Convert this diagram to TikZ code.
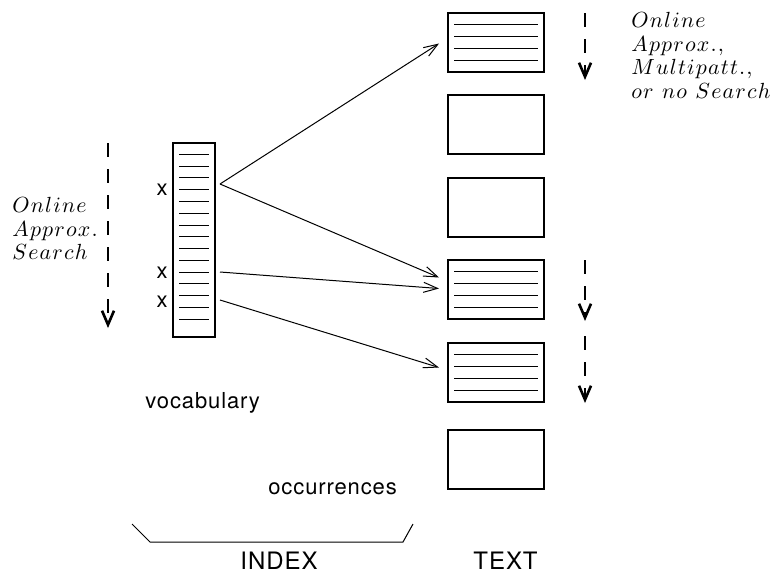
\documentclass[tikz,border=0pt]{standalone}
\usepackage{fontspec}
\newfontfamily\labelfont{TeX Gyre Heros}[LetterSpace=4]
\usetikzlibrary{arrows.meta,calc}

% math-italic word with a little air between the letters
\makeatletter
\newcommand\airyword[1]{\@tfor\ch:=#1\do{$\ch$\kern0.6pt}}
\makeatother

\tikzset{
  vocabbox/.style={draw, line width=1pt, minimum width=21pt, minimum height=97pt, inner sep=0pt},
  textbox/.style={draw, line width=1pt, minimum width=48pt, minimum height=29.5pt, inner sep=0pt},
  rule/.style={line width=0.5pt},
  pointer/.style={line width=0.5pt, -{Straight Barb[length=7pt,width=5pt]}},
  scan/.style={line width=1.3pt, dash pattern=on 7pt off 6pt, -{Straight Barb[length=7pt,width=6pt,line width=1.3pt]}},
  sanslabel/.style={inner sep=0pt, font=\labelfont\fontsize{11}{13}\selectfont},
  biglabel/.style={inner sep=0pt, font=\labelfont\fontsize{12}{14}\selectfont},
  itlabel/.style={inner sep=0pt, align=left, font=\fontsize{11}{11.8}\selectfont},
}

\begin{document}
\begin{tikzpicture}[x=0.5pt, y=-0.5pt]
  \useasboundingbox (0,0) rectangle (775,574);

  % vocabulary column with its entry lines
  \node[vocabbox] (vocab) at (194,240) {};
  \foreach \i in {0,...,14}
    \draw[rule] (179,{154.3+11.79*\i}) -- (209,{154.3+11.79*\i});

  % marked entries
  \node[sanslabel] (x1) at (162,190) {x};
  \node[sanslabel] (x2) at (162,273) {x};
  \node[sanslabel] (x3) at (162,302) {x};

  % text blocks
  \node[textbox] (t1) at (496,42.5) {};
  \node[textbox] (t2) at (496,124.5) {};
  \node[textbox] (t3) at (496,207) {};
  \node[textbox] (t4) at (496,289.5) {};
  \node[textbox] (t5) at (496,372.5) {};
  \node[textbox] (t6) at (496,459) {};
  \foreach \b in {t1,t4,t5}
    \foreach \i in {1,...,4}
      \draw[rule] ($(\b.north west)+(7,12*\i)$) -- ($(\b.north east)+(-7,12*\i)$);

  % pointers from the vocabulary to the text blocks
  \coordinate (apex) at (220,184);
  \coordinate (from2) at (220,272);
  \coordinate (from3) at (220,300);
  \coordinate (to1) at ($(t1.west)+(-8,1)$);
  \coordinate (to4a) at ($(t4.west)+(-8,-12)$);
  \coordinate (to4b) at ($(t4.west)+(-8,-1)$);
  \coordinate (to5) at ($(t5.west)+(-8,-5)$);
  \draw[pointer] (apex) -- (to1);
  \draw[pointer] (apex) -- (to4a);
  \draw[pointer] (from2) -- (to4b);
  \draw[pointer] (from3) -- (to5);

  % search direction arrows
  \coordinate (ls) at (108,143);
  \coordinate (le) at (108,328);
  \coordinate (r1s) at (585,13);
  \coordinate (r1e) at (585,80);
  \coordinate (r2s) at (585,260);
  \coordinate (r2e) at (585,321);
  \coordinate (r3s) at (585,336);
  \coordinate (r3e) at (585,403);
  \draw[scan] (ls) -- (le);
  \draw[scan] (r1s) -- (r1e);
  \draw[scan] (r2s) -- (r2e);
  \draw[scan] (r3s) -- (r3e);

  % labels
  \node[itlabel, anchor=north west] (lefttxt) at (12,197)
    {\airyword{Online}\\\airyword{Approx.}\\\airyword{Search}};
  \node[itlabel, anchor=north west] (righttxt) at (631,12)
    {\airyword{Online}\\\airyword{Approx.,}\\\airyword{Multipatt.,}\\
     \airyword{or}\ \airyword{no}\ \airyword{Search}};
  \node[sanslabel, anchor=base west] (vocl) at (145,408) {vocabulary};
  \node[sanslabel, anchor=base west] (occl) at (268,494) {occurrences};
  \node[biglabel, anchor=base west] (indexl) at (240,569) {INDEX};
  \node[biglabel, anchor=base west] (textl) at (473,569) {TEXT};

  % bracket over the index
  \draw[line width=0.5pt] (132,524) -- (150,542) -- (403,542) -- (413,524);
\end{tikzpicture}
\end{document}
